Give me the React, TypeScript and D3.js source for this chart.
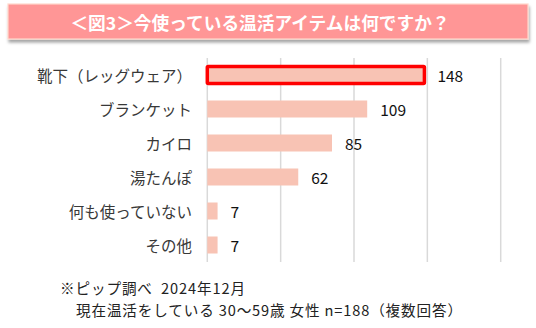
import React from "react";
import * as d3 from "d3";

const categories = ["靴下（レッグウェア）", "ブランケット", "カイロ", "湯たんぽ", "何も使っていない", "その他"];
const values = [148, 109, 85, 62, 7, 7];
const highlighted = ["靴下（レッグウェア）"];
const gridTicks = [0, 50, 100, 150, 200];
const titleText = "＜図3＞今使っている温活アイテムは何ですか？";
const noteLines = ["※ピップ調べ  2024年12月", "現在温活をしている 30～59歳 女性 n=188（複数回答）"];

const W = 536;
const H = 328;
const FONT = "'Noto Sans CJK JP', 'Noto Sans', sans-serif";

export default function App() {
  const x = d3.scaleLinear().domain([0, 200]).range([207.3, 500.7]);
  const y = d3.scaleBand<string>().domain(categories).range([58, 262]).paddingInner(0.5).paddingOuter(0.25);

  return (
    <svg width={W} height={H} style={{ position: "absolute", left: 0, top: 0, background: "#fff" }}>
      <defs>
        <filter id="sh" x="-5%" y="-30%" width="110%" height="170%">
          <feDropShadow dx="1" dy="3" stdDeviation="1.5" floodColor="#000" floodOpacity="0.35" />
        </filter>
      </defs>
      <rect x={8} y={4} width={520} height={35} fill="#FF9696" stroke="#FFD8CC" strokeWidth={1.2} filter="url(#sh)" />
      <text x={260} y={22} textAnchor="middle" dominantBaseline="central" fill="#fff" fontWeight="bold" fontSize={17.7} fontFamily={FONT}>
        {titleText}
      </text>

      {gridTicks.map((t) => (
        <line key={t} x1={x(t)} x2={x(t)} y1={58} y2={262} stroke="#d9d9d9" strokeWidth={1.5} />
      ))}

      {categories.map((c, i) => {
        const yy = y(c)!;
        const bw = y.bandwidth();
        const hl = highlighted.includes(c);
        return (
          <g key={c}>
            <text x={192} y={yy + bw / 2} textAnchor="end" dominantBaseline="central" fontSize={15.5} fill="#383838" fontFamily={FONT}>
              {c}
            </text>
            <rect
              x={x(0)}
              y={yy}
              width={x(values[i]) - x(0)}
              height={bw}
              fill="#F8C3B4"
              stroke={hl ? "#FF0000" : "none"}
              strokeWidth={hl ? 3.5 : 0}
              rx={hl ? 1 : 0}
            />
            <text x={x(values[i]) + 13} y={yy + bw / 2} dominantBaseline="central" fontSize={15.5} fill="#111" fontFamily={FONT}>
              {values[i]}
            </text>
          </g>
        );
      })}

      <text x={60} y={287.5} dominantBaseline="central" fontSize={14.6} fill="#222" fontFamily={FONT} xmlSpace="preserve" textLength={185}>
        {noteLines[0]}
      </text>
      <text x={76} y={309} dominantBaseline="central" fontSize={14.6} fill="#222" fontFamily={FONT} textLength={386}>
        {noteLines[1]}
      </text>
    </svg>
  );
}
